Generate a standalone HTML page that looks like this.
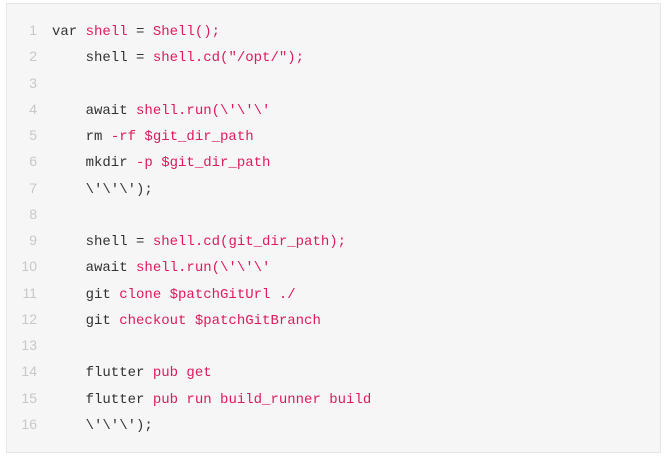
<!DOCTYPE html>
<html><head><meta charset="utf-8"><style>
html,body{margin:0;padding:0;background:#fff;width:670px;height:458px;overflow:hidden}
.box{position:absolute;left:6px;top:3px;width:655px;height:450px;background:#f6f6f6;border:1px solid #e6e6e6;box-sizing:border-box}
.code{position:absolute;left:0;top:19px;font-family:"Liberation Mono",monospace;font-size:14px;color:#333;white-space:pre}
.code div{height:26.27px;line-height:22px;overflow:visible}
.ln{display:inline-block;width:37px;text-align:right;color:#c8c8c8;margin-right:15px;font-family:"Liberation Sans",sans-serif;font-size:14px;line-height:22px}
.r{color:#dd1a5a}
</style></head><body>
<div class="box"></div>
<div class="code"><div><span class="ln">1</span>var <span class="r">shell</span> = <span class="r">Shell();</span></div><div><span class="ln">2</span>    shell = <span class="r">shell.cd("/opt/");</span></div><div><span class="ln">3</span></div><div><span class="ln">4</span>    await <span class="r">shell.run(\'\'\'</span></div><div><span class="ln">5</span>    rm <span class="r">-rf $git_dir_path</span></div><div><span class="ln">6</span>    mkdir <span class="r">-p $git_dir_path</span></div><div><span class="ln">7</span>    \'\'\');</div><div><span class="ln">8</span></div><div><span class="ln">9</span>    shell = <span class="r">shell.cd(git_dir_path);</span></div><div><span class="ln">10</span>    await <span class="r">shell.run(\'\'\'</span></div><div><span class="ln">11</span>    git <span class="r">clone $patchGitUrl ./</span></div><div><span class="ln">12</span>    git <span class="r">checkout $patchGitBranch</span></div><div><span class="ln">13</span></div><div><span class="ln">14</span>    flutter <span class="r">pub get</span></div><div><span class="ln">15</span>    flutter <span class="r">pub run build_runner build</span></div><div><span class="ln">16</span>    \'\'\');</div></div>
</body></html>
